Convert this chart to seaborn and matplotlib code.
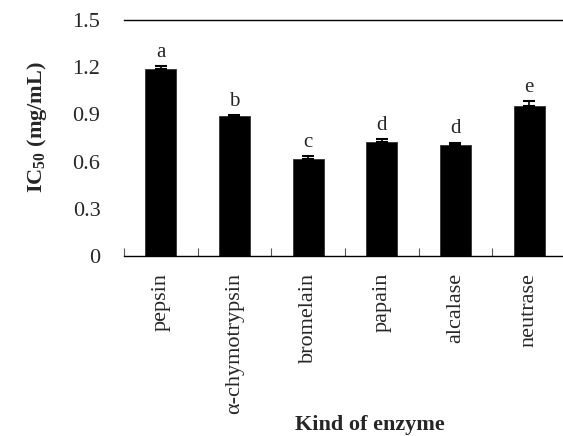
import numpy as np
import pandas as pd
import matplotlib
matplotlib.use("Agg")
import matplotlib.pyplot as plt
import seaborn as sns
from matplotlib.ticker import FixedLocator

# IC50 of hydrolysates prepared with different enzymes
enzymes = ["pepsin", "α-chymotrypsin", "bromelain", "papain", "alcalase", "neutrase"]
ic50 = [1.19, 0.888, 0.617, 0.723, 0.704, 0.952]
sd = [0.016, 0.008, 0.020, 0.022, 0.017, 0.030]
groups = ["a", "b", "c", "d", "d", "e"]
yticks = [0, 0.3, 0.6, 0.9, 1.2, 1.5]
ytick_labels = ["0", "0.3", "0.6", "0.9", "1.2", "1.5"]

sns.set_style("white")
plt.rcParams["font.family"] = ["Liberation Serif", "DejaVu Serif"]
plt.rcParams["mathtext.fontset"] = "custom"
plt.rcParams["mathtext.rm"] = "Liberation Serif"
plt.rcParams["mathtext.bf"] = "Liberation Serif:bold"
plt.rcParams["xtick.direction"] = "in"

df = pd.DataFrame({"enzyme": enzymes, "ic50": ic50})

fig = plt.figure(figsize=(5.63, 4.36), dpi=100)
ax = fig.add_axes([124 / 563, 180 / 436, 442 / 563, 236 / 436])

sns.barplot(data=df, x="enzyme", y="ic50", color="black", width=0.42,
            saturation=1, ax=ax, errorbar=None, edgecolor="#333333", linewidth=0.6)

xpos = np.arange(len(enzymes))
ax.errorbar(xpos, ic50, yerr=[np.zeros(len(sd)), sd], fmt="none",
            ecolor="black", elinewidth=1.2, capsize=4, capthick=1.5)

for x, v, e, g in zip(xpos, ic50, sd, groups):
    ax.annotate(g, (x, v + e), xytext=(0, 3), textcoords="offset points",
                ha="center", va="bottom", fontsize=15)

ax.set_xlim(-0.5, len(enzymes) - 0.5)
ax.set_ylim(0, 1.5)
ax.set_yticks(yticks)
ax.set_yticklabels(ytick_labels, fontsize=16)
ax.tick_params(axis="y", length=0, pad=17)
ax.set_xticks(xpos)
ax.set_xticklabels(enzymes, rotation=90, fontsize=16)
ax.tick_params(axis="x", which="major", length=0, pad=12)
ax.xaxis.set_minor_locator(FixedLocator(np.arange(-0.5, len(enzymes), 1.0)))
ax.tick_params(axis="x", which="minor", bottom=True, direction="in", length=6,
               width=0.8, color="#555555")

for side in ["left", "right"]:
    ax.spines[side].set_visible(False)
for side in ["top", "bottom"]:
    ax.spines[side].set_visible(True)
    ax.spines[side].set_color("black")
    ax.spines[side].set_linewidth(1.0)

ax.set_xlabel("")
ax.set_ylabel("")
fig.text(370 / 563, 1 - 425 / 436, "Kind of enzyme", ha="center", va="center",
         fontsize=16, fontweight="bold")
fig.text(37 / 563, 1 - 127 / 436, r"IC$_{\mathbf{50}}$ (mg/mL)", ha="center", va="center",
         rotation=90, fontsize=16, fontweight="bold")

fig.savefig("out.png", dpi=100)
